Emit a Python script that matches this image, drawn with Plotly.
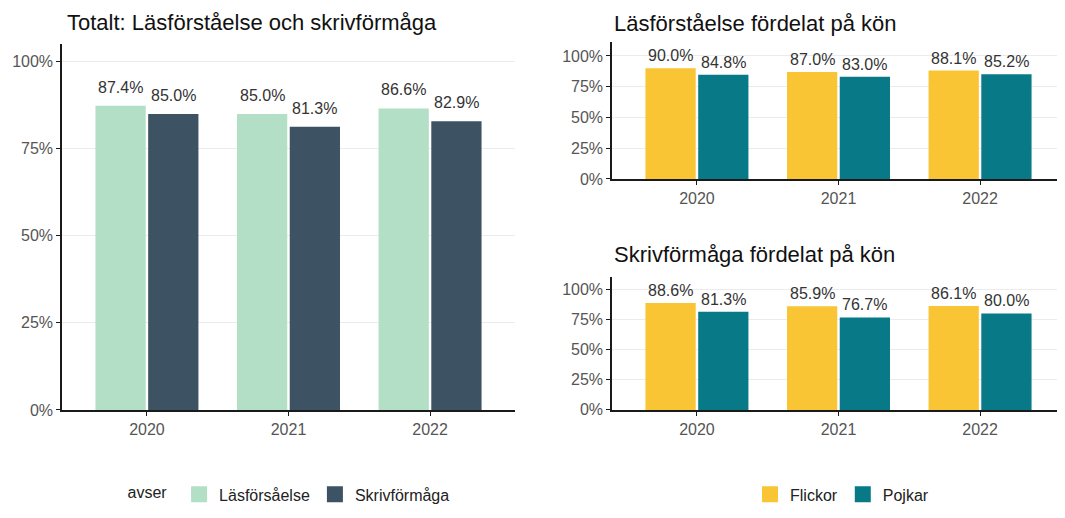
import plotly.graph_objects as go

years = ["2020", "2021", "2022"]
total_las = [0.874, 0.850, 0.866]
total_skriv = [0.850, 0.813, 0.829]
las_flickor = [0.900, 0.870, 0.881]
las_pojkar = [0.848, 0.830, 0.852]
skriv_flickor = [0.886, 0.859, 0.861]
skriv_pojkar = [0.813, 0.767, 0.800]
ytick_vals = [0, 0.25, 0.5, 0.75, 1.0]
ytick_text = ["0%", "25%", "50%", "75%", "100%"]

C_LAS = "#b3dfc6"
C_SKRIV = "#3d5262"
C_FLICK = "#f9c535"
C_POJK = "#087a87"
FONT = "Liberation Sans, Arial, sans-serif"
W, H = 1065, 518
OFF = 8  # default page body margin of the exported html

def px_x(p):
    return (p - OFF) / W

def px_y(p):
    return 1 - (p - OFF) / H

BARGAP = 0.255
GROUPGAP = 0.047
fig = go.Figure()

def bar(x, y, color, xa, ya, name, group):
    return go.Bar(
        x=x, y=y, name=name, marker=dict(color=color, line=dict(width=0)),
        xaxis=xa, yaxis=ya, offsetgroup=group, showlegend=False,
        hovertemplate="%{x}: %{y:.1%}<extra>" + name + "</extra>",
    )

panels = [
    ("x", "y", total_las, total_skriv, C_LAS, C_SKRIV, "Läsförsåelse", "Skrivförmåga", 8),
    ("x2", "y2", las_flickor, las_pojkar, C_FLICK, C_POJK, "Flickor", "Pojkar", 2),
    ("x3", "y3", skriv_flickor, skriv_pojkar, C_FLICK, C_POJK, "Flickor", "Pojkar", 2),
]
annotations = []
half_slot = (1 - BARGAP) / 4  # centre offset of each dodged bar, in category units
for xa, ya, s1, s2, c1, c2, n1, n2, gap in panels:
    fig.add_trace(bar(years, s1, c1, xa, ya, n1, "a"))
    fig.add_trace(bar(years, s2, c2, xa, ya, n2, "b"))
    for series, sign in [(s1, -1), (s2, 1)]:
        for i, v in enumerate(series):
            annotations.append(dict(
                x=i + sign * half_slot, y=v, xref=xa, yref=ya, text=f"{v*100:.1f}%",
                showarrow=False, xanchor="center", yanchor="bottom", yshift=gap,
                font=dict(size=16, color="#333333", family=FONT),
            ))

# legend entries (square markers for larger swatches)
for name, color, lg in [("Läsförsåelse", C_LAS, "legend"), ("Skrivförmåga", C_SKRIV, "legend"),
                        ("Flickor", C_FLICK, "legend2"), ("Pojkar", C_POJK, "legend2")]:
    fig.add_trace(go.Scatter(
        x=[None], y=[None], mode="markers", name=name, legend=lg,
        marker=dict(symbol="square", size=22, color=color),
        xaxis="x" if lg == "legend" else "x2", yaxis="y" if lg == "legend" else "y2",
        showlegend=True, hoverinfo="skip",
    ))

xcommon = dict(
    type="category", range=[-0.6, 2.6], showline=True, linecolor="#1a1a1a", linewidth=1.5,
    ticks="outside", ticklen=4, tickcolor="#1a1a1a", showgrid=False, zeroline=False,
    tickfont=dict(size=16, color="#555555", family=FONT), fixedrange=True,
)
ycommon = dict(
    tickvals=ytick_vals, ticktext=ytick_text, showline=True, linecolor="#1a1a1a", linewidth=1.5,
    ticks="outside", ticklen=4, tickcolor="#1a1a1a", showgrid=True, gridcolor="#ebebeb",
    gridwidth=1, zeroline=False, tickfont=dict(size=16, color="#555555", family=FONT),
    fixedrange=True,
)

title_font = dict(size=22, color="#111111", family=FONT)
annotations += [
    dict(text="Totalt: Läsförståelse och skrivförmåga", x=px_x(65), y=px_y(23),
         xref="paper", yref="paper", xanchor="left", yanchor="middle", showarrow=False,
         font=title_font),
    dict(text="Läsförståelse fördelat på kön", x=px_x(612), y=px_y(24),
         xref="paper", yref="paper", xanchor="left", yanchor="middle", showarrow=False,
         font=title_font),
    dict(text="Skrivförmåga fördelat på kön", x=px_x(612), y=px_y(259),
         xref="paper", yref="paper", xanchor="left", yanchor="middle", showarrow=False,
         font=title_font),
]

fig.update_layout(
    width=W, height=H,
    margin=dict(l=0, r=0, t=0, b=0),
    paper_bgcolor="white", plot_bgcolor="white",
    font=dict(family=FONT, color="#222222"),
    barmode="group", bargap=BARGAP, bargroupgap=GROUPGAP,
    xaxis=dict(xcommon, domain=[px_x(62), px_x(515)], anchor="y"),
    yaxis=dict(ycommon, domain=[px_y(417), px_y(45)], range=[0, 1.05], anchor="x"),
    xaxis2=dict(xcommon, domain=[px_x(612), px_x(1065)], anchor="y2"),
    yaxis2=dict(ycommon, domain=[px_y(182), px_y(43)], range=[0, 1.11], anchor="x2"),
    xaxis3=dict(xcommon, domain=[px_x(612), px_x(1065)], anchor="y3"),
    yaxis3=dict(ycommon, domain=[px_y(417), px_y(282)], range=[0, 1.10], anchor="x3"),
    legend=dict(
        orientation="h", x=px_x(290), xanchor="center", y=px_y(503), yanchor="middle",
        title=dict(text="avser ", font=dict(size=16, color="#222222", family=FONT), side="left"),
        font=dict(size=16, color="#222222", family=FONT), bgcolor="rgba(0,0,0,0)",
    ),
    legend2=dict(
        orientation="h", x=px_x(842), xanchor="center", y=px_y(503), yanchor="middle",
        font=dict(size=16, color="#222222", family=FONT), bgcolor="rgba(0,0,0,0)",
    ),
    showlegend=True,
    annotations=annotations,
)

fig.write_html("out.html")
